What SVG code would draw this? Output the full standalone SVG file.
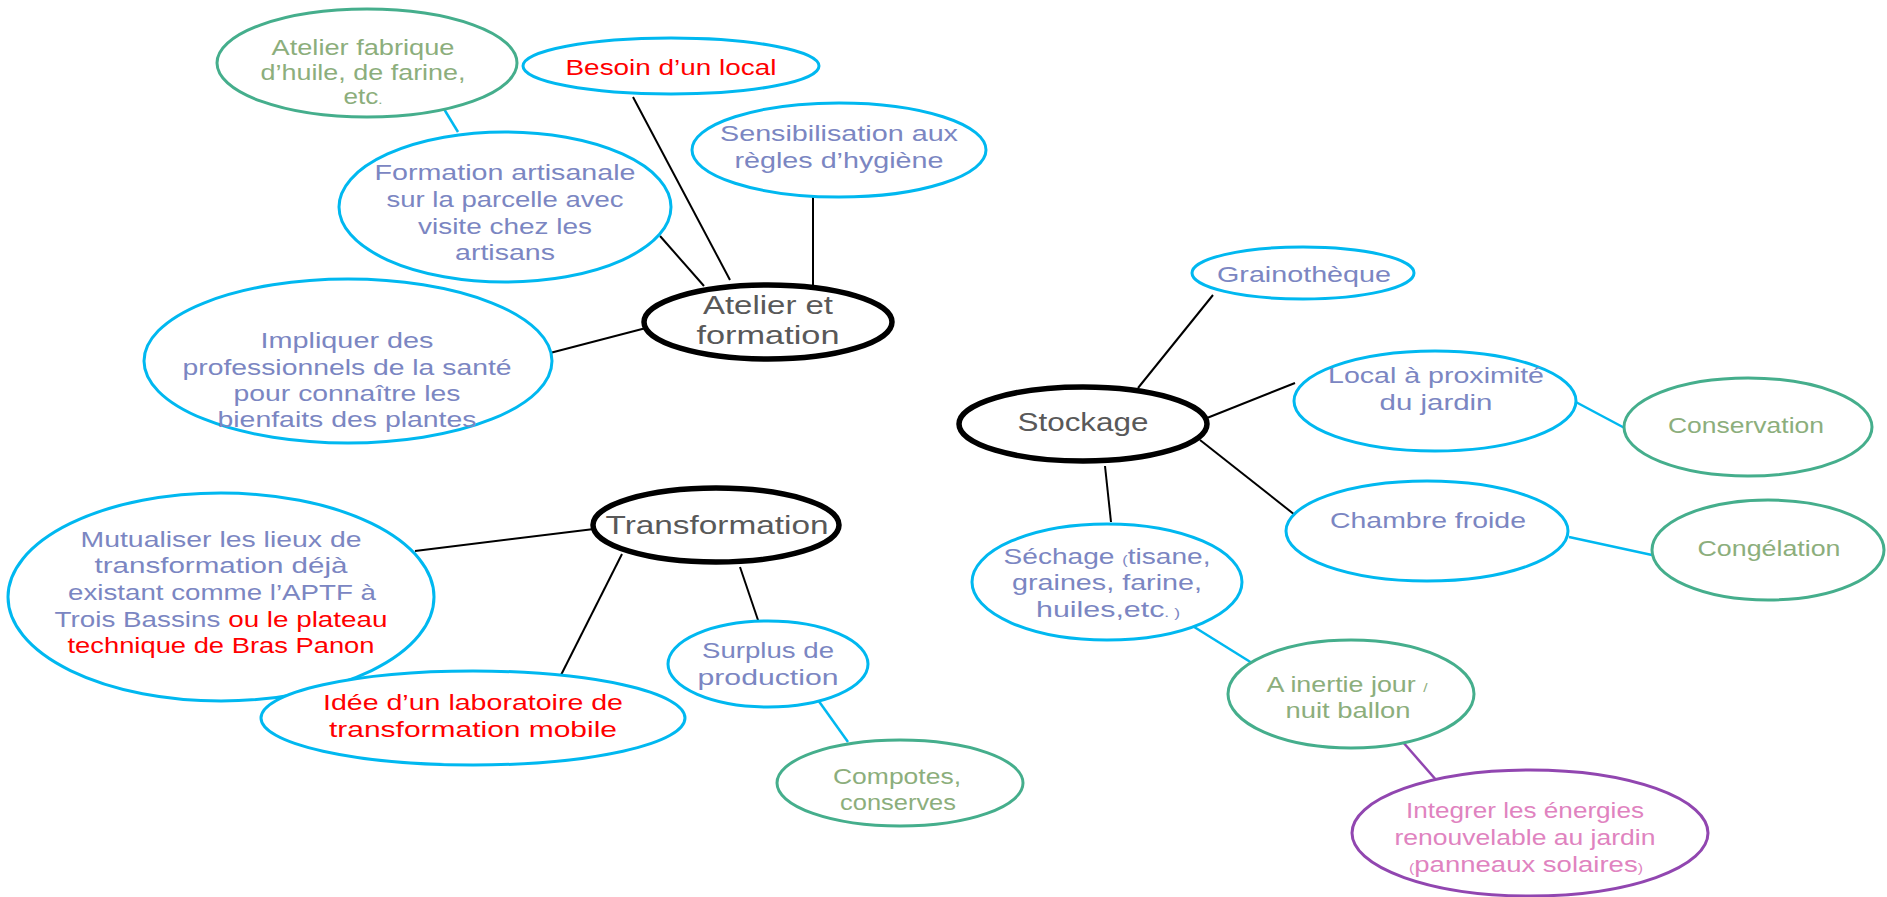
<svg xmlns="http://www.w3.org/2000/svg" width="1887" height="897" viewBox="0 0 1887 897">
<style>
text{font-family:"Liberation Sans","Open Sans","DejaVu Sans",sans-serif;font-size:22.5px;text-anchor:middle}
.e{fill:#fff;stroke:#00B8F0;stroke-width:3}
.eg{fill:#fff;stroke:#45AE8C;stroke-width:3}
.ep{fill:#fff;stroke:#9146B0;stroke-width:3}
.ec{fill:#fff;stroke:#000;stroke-width:5.5}
.tb{fill:#7B86C2}
.tr{fill:#FF0000}
.tg{fill:#8CAE7C}
.tp{fill:#E083C0}
.td{fill:#595959;font-size:26.5px}
.s{font-size:13px}
.k{stroke:#000;stroke-width:2;fill:none}
.kc{stroke:#00B8F0;stroke-width:2.5;fill:none}
.kp{stroke:#9146B0;stroke-width:2.5;fill:none}
</style>
<rect width="1887" height="897" fill="#fff"/>
<g id="connectors">
<line class="k" x1="633" y1="97" x2="730" y2="280"/>
<line class="k" x1="813" y1="195" x2="813" y2="285"/>
<line class="k" x1="660" y1="236" x2="704" y2="286"/>
<line class="k" x1="550" y1="353" x2="646" y2="328"/>
<line class="kc" x1="444" y1="109" x2="458" y2="132"/>
<line class="k" x1="415" y1="551" x2="594" y2="529"/>
<line class="k" x1="622" y1="554" x2="560" y2="677"/>
<line class="k" x1="740" y1="567" x2="760" y2="626"/>
<line class="kc" x1="818" y1="700" x2="848" y2="742"/>
<line class="k" x1="1213" y1="295" x2="1138" y2="388"/>
<line class="k" x1="1295" y1="383" x2="1207" y2="418"/>
<line class="k" x1="1295" y1="515" x2="1200" y2="440"/>
<line class="k" x1="1111" y1="522" x2="1105" y2="466"/>
<line class="kc" x1="1572" y1="400" x2="1634" y2="433"/>
<line class="kc" x1="1569" y1="537" x2="1652" y2="555"/>
<line class="kc" x1="1191" y1="625" x2="1252" y2="663"/>
<line class="kp" x1="1402" y1="741" x2="1444" y2="789"/>
</g>
<g id="atelier-fabrique">
<ellipse class="eg" cx="367" cy="63" rx="150" ry="54"/>
<text class="tg" x="363" y="55" textLength="183" lengthAdjust="spacingAndGlyphs">Atelier fabrique</text>
<text class="tg" x="363" y="80" textLength="205" lengthAdjust="spacingAndGlyphs">d’huile, de farine,</text>
<text class="tg" x="363" y="104" textLength="39" lengthAdjust="spacingAndGlyphs">etc<tspan class="s">.</tspan></text>
</g>
<g id="besoin-local">
<ellipse class="e" cx="671" cy="66" rx="148" ry="28"/>
<text class="tr" x="671" y="75" textLength="211" lengthAdjust="spacingAndGlyphs">Besoin d’un local</text>
</g>
<g id="sensibilisation">
<ellipse class="e" cx="839" cy="150" rx="147" ry="47"/>
<text class="tb" x="839" y="141" textLength="238" lengthAdjust="spacingAndGlyphs">Sensibilisation aux</text>
<text class="tb" x="839" y="168" textLength="209" lengthAdjust="spacingAndGlyphs">règles d’hygiène</text>
</g>
<g id="formation-artisanale">
<ellipse class="e" cx="505" cy="207" rx="166" ry="75"/>
<text class="tb" x="505" y="180" textLength="261" lengthAdjust="spacingAndGlyphs">Formation artisanale</text>
<text class="tb" x="505" y="207" textLength="237" lengthAdjust="spacingAndGlyphs">sur la parcelle avec</text>
<text class="tb" x="505" y="234" textLength="174" lengthAdjust="spacingAndGlyphs">visite chez les</text>
<text class="tb" x="505" y="260" textLength="100" lengthAdjust="spacingAndGlyphs">artisans</text>
</g>
<g id="impliquer">
<ellipse class="e" cx="348" cy="361" rx="204" ry="82"/>
<text class="tb" x="347" y="348" textLength="173" lengthAdjust="spacingAndGlyphs">Impliquer des</text>
<text class="tb" x="347" y="375" textLength="329" lengthAdjust="spacingAndGlyphs">professionnels de la santé</text>
<text class="tb" x="347" y="401" textLength="227" lengthAdjust="spacingAndGlyphs">pour connaître les</text>
<text class="tb" x="347" y="427" textLength="259" lengthAdjust="spacingAndGlyphs">bienfaits des plantes</text>
</g>
<g id="atelier-formation">
<ellipse class="ec" cx="768" cy="322" rx="124" ry="37"/>
<text class="td" x="768" y="314" textLength="130" lengthAdjust="spacingAndGlyphs">Atelier et</text>
<text class="td" x="768" y="344" textLength="143" lengthAdjust="spacingAndGlyphs">formation</text>
</g>
<g id="transformation">
<ellipse class="ec" cx="716" cy="525" rx="123" ry="37"/>
<text class="td" x="717" y="534" textLength="223" lengthAdjust="spacingAndGlyphs">Transformation</text>
</g>
<g id="mutualiser">
<ellipse class="e" cx="221" cy="597" rx="213" ry="104"/>
<text class="tb" x="221" y="547" textLength="281" lengthAdjust="spacingAndGlyphs">Mutualiser les lieux de</text>
<text class="tb" x="221" y="573" textLength="253" lengthAdjust="spacingAndGlyphs">transformation déjà</text>
<text class="tb" x="222" y="600" textLength="308" lengthAdjust="spacingAndGlyphs">existant comme l’APTF à</text>
<text class="tb" x="221" y="627" textLength="333" lengthAdjust="spacingAndGlyphs">Trois Bassins <tspan class="tr">ou le plateau</tspan></text>
<text class="tr" x="221" y="653" textLength="307" lengthAdjust="spacingAndGlyphs">technique de Bras Panon</text>
</g>
<g id="laboratoire">
<ellipse class="e" cx="473" cy="718" rx="212" ry="47"/>
<text class="tr" x="473" y="710" textLength="300" lengthAdjust="spacingAndGlyphs">Idée d’un laboratoire de</text>
<text class="tr" x="473" y="737" textLength="288" lengthAdjust="spacingAndGlyphs">transformation mobile</text>
</g>
<g id="surplus">
<ellipse class="e" cx="768" cy="664" rx="100" ry="43"/>
<text class="tb" x="768" y="658" textLength="132" lengthAdjust="spacingAndGlyphs">Surplus de</text>
<text class="tb" x="768" y="685" textLength="141" lengthAdjust="spacingAndGlyphs">production</text>
</g>
<g id="compotes">
<ellipse class="eg" cx="900" cy="783" rx="123" ry="43"/>
<text class="tg" x="897" y="784" textLength="128" lengthAdjust="spacingAndGlyphs">Compotes,</text>
<text class="tg" x="898" y="810" textLength="116" lengthAdjust="spacingAndGlyphs">conserves</text>
</g>
<g id="stockage">
<ellipse class="ec" cx="1083" cy="424" rx="124" ry="37"/>
<text class="td" x="1083" y="431" textLength="131" lengthAdjust="spacingAndGlyphs">Stockage</text>
</g>
<g id="grainotheque">
<ellipse class="e" cx="1303" cy="273" rx="111" ry="26"/>
<text class="tb" x="1304" y="282" textLength="174" lengthAdjust="spacingAndGlyphs">Grainothèque</text>
</g>
<g id="local-proximite">
<ellipse class="e" cx="1435" cy="401" rx="141" ry="50"/>
<text class="tb" x="1436" y="383" textLength="216" lengthAdjust="spacingAndGlyphs">Local à proximité</text>
<text class="tb" x="1436" y="410" textLength="113" lengthAdjust="spacingAndGlyphs">du jardin</text>
</g>
<g id="conservation">
<ellipse class="eg" cx="1748" cy="427" rx="124" ry="49"/>
<text class="tg" x="1746" y="433" textLength="156" lengthAdjust="spacingAndGlyphs">Conservation</text>
</g>
<g id="chambre-froide">
<ellipse class="e" cx="1427" cy="531" rx="141" ry="50"/>
<text class="tb" x="1428" y="528" textLength="196" lengthAdjust="spacingAndGlyphs">Chambre froide</text>
</g>
<g id="congelation">
<ellipse class="eg" cx="1768" cy="550" rx="116" ry="50"/>
<text class="tg" x="1769" y="556" textLength="143" lengthAdjust="spacingAndGlyphs">Congélation</text>
</g>
<g id="sechage">
<ellipse class="e" cx="1107" cy="582" rx="135" ry="58"/>
<text class="tb" x="1107" y="564" textLength="207" lengthAdjust="spacingAndGlyphs">Séchage <tspan class="s">(</tspan>tisane,</text>
<text class="tb" x="1107" y="590" textLength="190" lengthAdjust="spacingAndGlyphs">graines, farine,</text>
<text class="tb" x="1108" y="617" textLength="144" lengthAdjust="spacingAndGlyphs">huiles,etc<tspan class="s">. )</tspan></text>
</g>
<g id="inertie">
<ellipse class="eg" cx="1351" cy="694" rx="123" ry="54"/>
<text class="tg" x="1347" y="692" textLength="161" lengthAdjust="spacingAndGlyphs">A inertie jour <tspan class="s">/</tspan></text>
<text class="tg" x="1348" y="718" textLength="125" lengthAdjust="spacingAndGlyphs">nuit ballon</text>
</g>
<g id="energies">
<ellipse class="ep" cx="1530" cy="833" rx="178" ry="63"/>
<text class="tp" x="1525" y="818" textLength="238" lengthAdjust="spacingAndGlyphs">Integrer les énergies</text>
<text class="tp" x="1525" y="845" textLength="261" lengthAdjust="spacingAndGlyphs">renouvelable au jardin</text>
<text class="tp" x="1526" y="872" textLength="234" lengthAdjust="spacingAndGlyphs"><tspan class="s">(</tspan>panneaux solaires<tspan class="s">)</tspan></text>
</g>
</svg>
